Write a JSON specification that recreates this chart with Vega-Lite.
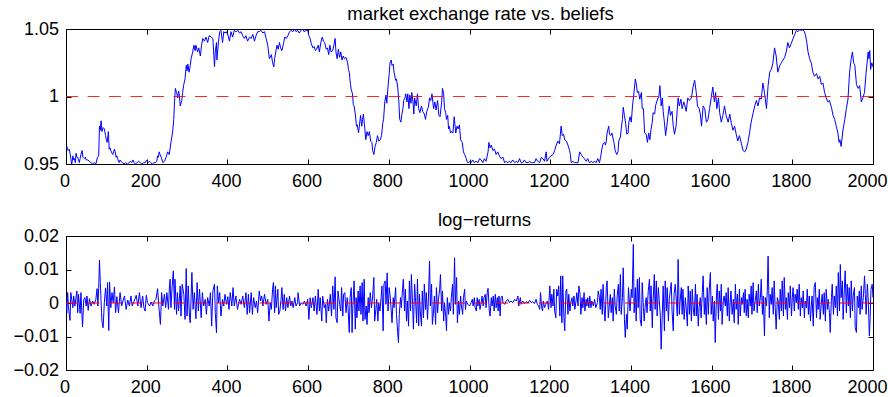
{
  "$schema": "https://vega.github.io/schema/vega-lite/v6.json",
  "background": "white",
  "padding": {"left": 12, "top": 4, "right": 0, "bottom": 0},
  "config": {
    "font": "Liberation Sans",
    "view": {"stroke": "black", "strokeWidth": 1},
    "axis": {
      "domain": false,
      "grid": false,
      "title": null,
      "tickColor": "black",
      "tickSize": -5,
      "tickWidth": 1,
      "labelFlush": false,
      "labelFont": "Liberation Sans",
      "labelFontSize": 18,
      "labelColor": "black"
    },
    "axisX": {"labelPadding": 13},
    "axisY": {"labelPadding": 12.5},
    "title": {
      "font": "Liberation Sans",
      "fontSize": 18.5,
      "fontWeight": "normal",
      "color": "black",
      "anchor": "middle",
      "frame": "group",
      "baseline": "alphabetic"
    }
  },
  "datasets": {
    "rate": [
      {"t":0,"r":0.962},{"t":2,"r":0.963},{"t":5,"r":0.960},{"t":8,"r":0.961},{"t":10,"r":0.958},{"t":12,"r":0.954},{"t":14,"r":0.950},{"t":15,"r":0.951},{"t":17,"r":0.956},{"t":19,"r":0.953},{"t":21,"r":0.954},{"t":23,"r":0.951},{"t":25,"r":0.958},{"t":27,"r":0.955},{"t":29,"r":0.955},{"t":31,"r":0.953},{"t":33,"r":0.951},{"t":35,"r":0.954},{"t":37,"r":0.957},{"t":40,"r":0.960},{"t":42,"r":0.955},{"t":45,"r":0.954},{"t":48,"r":0.955},{"t":50,"r":0.953},{"t":54,"r":0.953},{"t":58,"r":0.952},{"t":62,"r":0.951},{"t":66,"r":0.950},{"t":70,"r":0.951},{"t":74,"r":0.950},{"t":78,"r":0.955},{"t":81,"r":0.956},{"t":83,"r":0.978},{"t":85,"r":0.975},{"t":87,"r":0.982},{"t":89,"r":0.974},{"t":92,"r":0.977},{"t":95,"r":0.976},{"t":98,"r":0.971},{"t":100,"r":0.968},{"t":102,"r":0.966},{"t":104,"r":0.971},{"t":105,"r":0.974},{"t":107,"r":0.961},{"t":109,"r":0.962},{"t":111,"r":0.960},{"t":114,"r":0.958},{"t":116,"r":0.957},{"t":118,"r":0.959},{"t":120,"r":0.961},{"t":122,"r":0.959},{"t":124,"r":0.955},{"t":126,"r":0.956},{"t":128,"r":0.954},{"t":130,"r":0.952},{"t":132,"r":0.951},{"t":134,"r":0.953},{"t":136,"r":0.952},{"t":140,"r":0.951},{"t":144,"r":0.950},{"t":148,"r":0.951},{"t":152,"r":0.950},{"t":156,"r":0.951},{"t":160,"r":0.952},{"t":163,"r":0.951},{"t":166,"r":0.953},{"t":169,"r":0.951},{"t":172,"r":0.950},{"t":176,"r":0.951},{"t":180,"r":0.952},{"t":184,"r":0.951},{"t":188,"r":0.950},{"t":192,"r":0.951},{"t":196,"r":0.951},{"t":200,"r":0.953},{"t":203,"r":0.951},{"t":207,"r":0.952},{"t":210,"r":0.951},{"t":214,"r":0.950},{"t":218,"r":0.951},{"t":222,"r":0.951},{"t":225,"r":0.952},{"t":227,"r":0.956},{"t":229,"r":0.955},{"t":231,"r":0.959},{"t":233,"r":0.957},{"t":236,"r":0.955},{"t":240,"r":0.951},{"t":244,"r":0.952},{"t":248,"r":0.955},{"t":252,"r":0.959},{"t":256,"r":0.957},{"t":260,"r":0.966},{"t":264,"r":0.973},{"t":267,"r":0.983},{"t":269,"r":0.996},{"t":271,"r":1.006},{"t":274,"r":1.003},{"t":277,"r":0.999},{"t":279,"r":1.004},{"t":281,"r":1.001},{"t":283,"r":0.993},{"t":287,"r":0.997},{"t":289,"r":1.003},{"t":292,"r":1.009},{"t":295,"r":1.013},{"t":298,"r":1.023},{"t":300,"r":1.019},{"t":302,"r":1.024},{"t":305,"r":1.018},{"t":308,"r":1.023},{"t":310,"r":1.028},{"t":314,"r":1.033},{"t":317,"r":1.038},{"t":320,"r":1.034},{"t":322,"r":1.038},{"t":326,"r":1.033},{"t":329,"r":1.036},{"t":333,"r":1.030},{"t":336,"r":1.038},{"t":339,"r":1.043},{"t":343,"r":1.041},{"t":347,"r":1.044},{"t":351,"r":1.040},{"t":355,"r":1.045},{"t":360,"r":1.044},{"t":364,"r":1.043},{"t":368,"r":1.022},{"t":370,"r":1.033},{"t":373,"r":1.040},{"t":374,"r":1.027},{"t":378,"r":1.041},{"t":381,"r":1.048},{"t":384,"r":1.049},{"t":388,"r":1.040},{"t":391,"r":1.048},{"t":394,"r":1.047},{"t":397,"r":1.048},{"t":401,"r":1.046},{"t":405,"r":1.041},{"t":409,"r":1.048},{"t":413,"r":1.044},{"t":417,"r":1.049},{"t":421,"r":1.048},{"t":426,"r":1.049},{"t":430,"r":1.047},{"t":434,"r":1.048},{"t":438,"r":1.045},{"t":442,"r":1.043},{"t":446,"r":1.045},{"t":450,"r":1.041},{"t":455,"r":1.044},{"t":459,"r":1.043},{"t":463,"r":1.046},{"t":467,"r":1.041},{"t":471,"r":1.045},{"t":475,"r":1.048},{"t":479,"r":1.048},{"t":483,"r":1.049},{"t":488,"r":1.047},{"t":492,"r":1.048},{"t":496,"r":1.043},{"t":500,"r":1.038},{"t":504,"r":1.028},
      {"t":506,"r":1.029},{"t":509,"r":1.031},{"t":512,"r":1.025},{"t":515,"r":1.022},{"t":517,"r":1.028},{"t":521,"r":1.035},{"t":523,"r":1.038},{"t":526,"r":1.035},{"t":529,"r":1.040},{"t":532,"r":1.036},{"t":535,"r":1.034},{"t":539,"r":1.039},{"t":542,"r":1.044},{"t":546,"r":1.043},{"t":550,"r":1.045},{"t":554,"r":1.048},{"t":558,"r":1.049},{"t":562,"r":1.048},{"t":566,"r":1.050},{"t":570,"r":1.048},{"t":574,"r":1.049},{"t":578,"r":1.047},{"t":582,"r":1.049},{"t":586,"r":1.050},{"t":590,"r":1.048},{"t":595,"r":1.049},{"t":599,"r":1.049},{"t":602,"r":1.045},{"t":605,"r":1.043},{"t":608,"r":1.039},{"t":612,"r":1.036},{"t":615,"r":1.037},{"t":618,"r":1.034},{"t":621,"r":1.035},{"t":625,"r":1.038},{"t":628,"r":1.033},{"t":631,"r":1.039},{"t":635,"r":1.044},{"t":638,"r":1.041},{"t":641,"r":1.040},{"t":645,"r":1.035},{"t":648,"r":1.036},{"t":651,"r":1.031},{"t":654,"r":1.038},{"t":657,"r":1.033},{"t":661,"r":1.034},{"t":664,"r":1.038},{"t":667,"r":1.043},{"t":669,"r":1.033},{"t":672,"r":1.028},{"t":675,"r":1.035},{"t":678,"r":1.029},{"t":681,"r":1.033},{"t":684,"r":1.027},{"t":687,"r":1.030},{"t":690,"r":1.028},{"t":694,"r":1.029},{"t":698,"r":1.025},{"t":700,"r":1.020},{"t":702,"r":1.018},{"t":705,"r":1.009},{"t":707,"r":1.005},{"t":710,"r":1.002},{"t":712,"r":0.994},{"t":714,"r":0.993},{"t":717,"r":0.987},{"t":720,"r":0.978},{"t":722,"r":0.979},{"t":725,"r":0.973},{"t":727,"r":0.978},{"t":730,"r":0.986},{"t":733,"r":0.978},{"t":735,"r":0.983},{"t":737,"r":0.987},{"t":740,"r":0.978},{"t":743,"r":0.968},{"t":746,"r":0.974},{"t":749,"r":0.971},{"t":752,"r":0.974},{"t":755,"r":0.967},{"t":758,"r":0.966},{"t":760,"r":0.960},{"t":763,"r":0.957},{"t":766,"r":0.963},{"t":769,"r":0.966},{"t":772,"r":0.971},{"t":775,"r":0.967},{"t":779,"r":0.968},{"t":782,"r":0.971},{"t":785,"r":0.980},{"t":787,"r":0.983},{"t":790,"r":0.996},{"t":793,"r":1.001},{"t":795,"r":0.995},{"t":798,"r":1.007},{"t":801,"r":1.017},{"t":803,"r":1.025},{"t":806,"r":1.027},{"t":808,"r":1.023},{"t":811,"r":1.024},{"t":813,"r":1.018},{"t":817,"r":1.012},{"t":819,"r":1.013},{"t":822,"r":1.007},{"t":825,"r":0.996},{"t":827,"r":0.983},{"t":830,"r":0.981},{"t":832,"r":0.986},{"t":835,"r":0.991},{"t":837,"r":0.997},{"t":840,"r":0.999},{"t":842,"r":1.002},{"t":845,"r":0.996},{"t":847,"r":1.002},{"t":850,"r":0.991},{"t":852,"r":1.001},{"t":855,"r":0.995},{"t":857,"r":1.003},{"t":860,"r":0.996},{"t":862,"r":0.987},{"t":864,"r":0.999},{"t":868,"r":0.993},{"t":871,"r":1.002},{"t":874,"r":0.991},{"t":877,"r":0.988},{"t":881,"r":0.993},{"t":884,"r":0.989},{"t":888,"r":0.987},{"t":891,"r":0.983},{"t":894,"r":0.989},{"t":898,"r":0.992},{"t":901,"r":0.999},{"t":904,"r":0.997},{"t":907,"r":1.002},{"t":911,"r":0.991},{"t":914,"r":0.996},{"t":917,"r":0.990},{"t":921,"r":0.997},{"t":924,"r":0.986},{"t":927,"r":0.985},{"t":931,"r":0.996},{"t":933,"r":1.006},{"t":936,"r":1.002},{"t":938,"r":0.991},{"t":941,"r":0.988},{"t":943,"r":0.983},{"t":946,"r":0.986},{"t":948,"r":0.976},{"t":950,"r":0.978},{"t":953,"r":0.973},{"t":955,"r":0.974},{"t":959,"r":0.973},{"t":962,"r":0.985},{"t":966,"r":0.973},{"t":969,"r":0.978},{"t":972,"r":0.976},{"t":975,"r":0.979},{"t":978,"r":0.968},{"t":982,"r":0.966},{"t":985,"r":0.959},{"t":988,"r":0.957},{"t":992,"r":0.954},{"t":995,"r":0.951},{"t":998,"r":0.951},
      {"t":1001,"r":0.952},{"t":1004,"r":0.951},{"t":1008,"r":0.953},{"t":1012,"r":0.951},{"t":1016,"r":0.952},{"t":1021,"r":0.951},{"t":1025,"r":0.954},{"t":1029,"r":0.953},{"t":1033,"r":0.951},{"t":1037,"r":0.954},{"t":1041,"r":0.952},{"t":1046,"r":0.959},{"t":1048,"r":0.966},{"t":1051,"r":0.962},{"t":1054,"r":0.964},{"t":1058,"r":0.960},{"t":1062,"r":0.961},{"t":1066,"r":0.957},{"t":1070,"r":0.959},{"t":1074,"r":0.956},{"t":1078,"r":0.954},{"t":1083,"r":0.955},{"t":1087,"r":0.951},{"t":1091,"r":0.952},{"t":1095,"r":0.951},{"t":1099,"r":0.952},{"t":1103,"r":0.951},{"t":1107,"r":0.953},{"t":1112,"r":0.951},{"t":1116,"r":0.952},{"t":1120,"r":0.951},{"t":1124,"r":0.954},{"t":1128,"r":0.951},{"t":1132,"r":0.951},{"t":1136,"r":0.953},{"t":1140,"r":0.951},{"t":1145,"r":0.951},{"t":1149,"r":0.952},{"t":1153,"r":0.951},{"t":1157,"r":0.951},{"t":1161,"r":0.951},{"t":1165,"r":0.954},{"t":1169,"r":0.952},{"t":1174,"r":0.951},{"t":1178,"r":0.955},{"t":1182,"r":0.954},{"t":1186,"r":0.952},{"t":1190,"r":0.959},{"t":1192,"r":0.952},{"t":1198,"r":0.955},{"t":1202,"r":0.956},{"t":1207,"r":0.957},{"t":1211,"r":0.960},{"t":1215,"r":0.964},{"t":1219,"r":0.967},{"t":1223,"r":0.965},{"t":1227,"r":0.978},{"t":1230,"r":0.971},{"t":1233,"r":0.972},{"t":1236,"r":0.968},{"t":1240,"r":0.967},{"t":1244,"r":0.964},{"t":1248,"r":0.960},{"t":1250,"r":0.957},{"t":1252,"r":0.951},{"t":1256,"r":0.952},{"t":1260,"r":0.951},{"t":1264,"r":0.951},{"t":1269,"r":0.951},{"t":1273,"r":0.959},{"t":1277,"r":0.957},{"t":1281,"r":0.955},{"t":1285,"r":0.954},{"t":1289,"r":0.952},{"t":1293,"r":0.954},{"t":1297,"r":0.951},{"t":1302,"r":0.952},{"t":1306,"r":0.951},{"t":1310,"r":0.952},{"t":1314,"r":0.951},{"t":1318,"r":0.954},{"t":1322,"r":0.951},{"t":1325,"r":0.955},{"t":1328,"r":0.961},{"t":1331,"r":0.965},{"t":1335,"r":0.966},{"t":1337,"r":0.964},{"t":1339,"r":0.967},{"t":1341,"r":0.973},{"t":1345,"r":0.978},{"t":1347,"r":0.972},{"t":1350,"r":0.971},{"t":1353,"r":0.973},{"t":1355,"r":0.970},{"t":1358,"r":0.966},{"t":1361,"r":0.960},{"t":1365,"r":0.957},{"t":1368,"r":0.959},{"t":1370,"r":0.967},{"t":1374,"r":0.970},{"t":1376,"r":0.976},{"t":1379,"r":0.983},{"t":1381,"r":0.992},{"t":1384,"r":0.986},{"t":1387,"r":0.980},{"t":1390,"r":0.972},{"t":1393,"r":0.973},{"t":1395,"r":0.981},{"t":1398,"r":0.985},{"t":1401,"r":0.981},{"t":1404,"r":0.993},{"t":1408,"r":1.004},{"t":1411,"r":1.013},{"t":1413,"r":1.010},{"t":1416,"r":1.003},{"t":1419,"r":1.004},{"t":1422,"r":0.998},{"t":1426,"r":1.003},{"t":1428,"r":0.991},{"t":1431,"r":0.991},{"t":1434,"r":0.973},{"t":1438,"r":0.972},{"t":1441,"r":0.966},{"t":1444,"r":0.973},{"t":1447,"r":0.968},{"t":1450,"r":0.976},{"t":1453,"r":0.981},{"t":1455,"r":0.988},{"t":1459,"r":0.987},{"t":1461,"r":0.993},{"t":1464,"r":0.996},{"t":1467,"r":0.999},{"t":1469,"r":0.999},{"t":1472,"r":1.008},{"t":1475,"r":0.993},{"t":1478,"r":0.999},{"t":1480,"r":0.989},{"t":1483,"r":0.981},{"t":1486,"r":0.971},{"t":1489,"r":0.978},{"t":1492,"r":0.986},{"t":1495,"r":0.993},{"t":1498,"r":0.986},{"t":1502,"r":0.989},{"t":1505,"r":0.978},{"t":1508,"r":0.972},{"t":1512,"r":0.978},
      {"t":1517,"r":0.999},{"t":1520,"r":0.993},{"t":1524,"r":0.998},{"t":1527,"r":0.991},{"t":1531,"r":0.996},{"t":1534,"r":0.993},{"t":1537,"r":0.989},{"t":1541,"r":0.999},{"t":1545,"r":0.997},{"t":1550,"r":0.999},{"t":1554,"r":1.007},{"t":1558,"r":1.012},{"t":1562,"r":1.003},{"t":1565,"r":0.993},{"t":1569,"r":0.991},{"t":1572,"r":0.987},{"t":1575,"r":0.978},{"t":1579,"r":0.993},{"t":1583,"r":0.991},{"t":1587,"r":0.981},{"t":1591,"r":0.983},{"t":1595,"r":0.991},{"t":1599,"r":0.999},{"t":1603,"r":1.007},{"t":1607,"r":0.996},{"t":1610,"r":1.003},{"t":1613,"r":0.991},{"t":1617,"r":0.999},{"t":1620,"r":0.988},{"t":1624,"r":0.981},{"t":1628,"r":0.986},{"t":1632,"r":0.993},{"t":1636,"r":0.986},{"t":1641,"r":0.981},{"t":1645,"r":0.987},{"t":1649,"r":0.980},{"t":1653,"r":0.975},{"t":1657,"r":0.978},{"t":1661,"r":0.972},{"t":1665,"r":0.967},{"t":1669,"r":0.971},{"t":1674,"r":0.965},{"t":1678,"r":0.960},{"t":1682,"r":0.959},{"t":1686,"r":0.961},{"t":1690,"r":0.966},{"t":1694,"r":0.973},{"t":1698,"r":0.981},{"t":1703,"r":0.988},{"t":1707,"r":0.993},{"t":1711,"r":0.997},{"t":1715,"r":0.993},{"t":1719,"r":0.999},{"t":1723,"r":0.998},{"t":1727,"r":1.010},{"t":1731,"r":1.003},{"t":1736,"r":0.991},{"t":1740,"r":1.008},{"t":1744,"r":1.018},{"t":1748,"r":1.020},{"t":1752,"r":1.025},{"t":1756,"r":1.036},{"t":1760,"r":1.030},{"t":1764,"r":1.018},{"t":1769,"r":1.023},{"t":1773,"r":1.025},{"t":1777,"r":1.027},{"t":1781,"r":1.029},{"t":1785,"r":1.033},{"t":1789,"r":1.040},{"t":1793,"r":1.036},{"t":1797,"r":1.039},{"t":1802,"r":1.043},{"t":1806,"r":1.046},{"t":1810,"r":1.049},{"t":1814,"r":1.048},{"t":1818,"r":1.0495},{"t":1822,"r":1.049},{"t":1826,"r":1.0495},{"t":1830,"r":1.048},{"t":1833,"r":1.045},{"t":1836,"r":1.040},{"t":1839,"r":1.033},{"t":1843,"r":1.028},{"t":1847,"r":1.025},{"t":1851,"r":1.018},{"t":1855,"r":1.015},{"t":1860,"r":1.017},{"t":1864,"r":1.013},{"t":1868,"r":1.015},{"t":1872,"r":1.009},{"t":1876,"r":1.010},{"t":1880,"r":1.003},{"t":1884,"r":0.999},{"t":1888,"r":0.996},{"t":1892,"r":0.997},{"t":1897,"r":0.992},{"t":1901,"r":0.986},{"t":1905,"r":0.983},{"t":1909,"r":0.978},{"t":1913,"r":0.973},{"t":1916,"r":0.966},{"t":1918,"r":0.968},{"t":1921,"r":0.963},{"t":1926,"r":0.976},{"t":1930,"r":0.983},{"t":1934,"r":0.991},{"t":1938,"r":0.998},{"t":1942,"r":1.018},{"t":1946,"r":1.028},{"t":1949,"r":1.033},{"t":1952,"r":1.025},{"t":1955,"r":1.023},{"t":1959,"r":1.009},{"t":1963,"r":1.006},{"t":1967,"r":1.008},{"t":1971,"r":0.996},{"t":1975,"r":0.999},{"t":1979,"r":1.003},{"t":1983,"r":1.018},{"t":1988,"r":1.033},{"t":1990,"r":1.028},{"t":1992,"r":1.034},{"t":1994,"r":1.020},{"t":1997,"r":1.025},{"t":2000,"r":1.022}
    ],
    "ret": [
      {"t":0,"d":0.0010},{"t":2,"d":-0.0030},{"t":4,"d":0.0031},{"t":6,"d":-0.0010},{"t":8,"d":-0.0034},{"t":10,"d":-0.0052},{"t":12,"d":0.0031},{"t":17,"d":-0.0014},{"t":19,"d":0.0021},{"t":22,"d":-0.0009},{"t":27,"d":0.0036},{"t":29,"d":-0.0029},{"t":31,"d":0.0026},{"t":35,"d":-0.0031},{"t":37,"d":0.0031},{"t":41,"d":-0.0072},{"t":44,"d":0.0011},{"t":47,"d":0.0016},{"t":50,"d":-0.0009},{"t":52,"d":0.0021},{"t":55,"d":-0.0022},{"t":58,"d":0.0013},{"t":62,"d":-0.0009},{"t":66,"d":0.0006},{"t":70,"d":-0.0004},{"t":74,"d":0.0011},{"t":77,"d":0.0043},{"t":79,"d":-0.0009},{"t":81,"d":0.0044},{"t":83,"d":0.0128},{"t":85,"d":0.0061},{"t":88,"d":-0.0029},{"t":89,"d":-0.0054},{"t":92,"d":-0.0074},{"t":95,"d":0.0001},{"t":98,"d":0.0045},{"t":101,"d":-0.0009},{"t":103,"d":0.0061},{"t":106,"d":-0.0082},{"t":108,"d":0.0063},{"t":111,"d":-0.0014},{"t":114,"d":0.0031},{"t":117,"d":0.0001},{"t":120,"d":0.0048},{"t":123,"d":-0.0029},{"t":126,"d":0.0019},{"t":130,"d":-0.0029},{"t":134,"d":0.0031},{"t":138,"d":-0.0009},{"t":141,"d":0.0006},{"t":145,"d":0.0021},{"t":149,"d":-0.0019},{"t":153,"d":0.0009},{"t":157,"d":-0.0009},{"t":161,"d":0.0021},{"t":164,"d":-0.0009},{"t":169,"d":0.0006},{"t":174,"d":0.0023},{"t":178,"d":-0.0009},{"t":182,"d":0.0031},{"t":186,"d":-0.0014},{"t":190,"d":0.0021},{"t":193,"d":-0.0014},{"t":196,"d":-0.0024},{"t":199,"d":0.0023},{"t":202,"d":0.0001},{"t":207,"d":-0.0009},{"t":211,"d":0.0003},{"t":215,"d":-0.0009},{"t":219,"d":0.0006},{"t":223,"d":0.0011},{"t":227,"d":0.0043},{"t":230,"d":-0.0009},{"t":234,"d":-0.0064},{"t":237,"d":0.0031},{"t":240,"d":-0.0009},{"t":244,"d":0.0026},{"t":247,"d":-0.0014},{"t":250,"d":0.0031},{"t":254,"d":-0.0019},{"t":256,"d":0.0041},{"t":258,"d":0.0071},{"t":260,"d":-0.0014},{"t":264,"d":0.0066},{"t":266,"d":0.0096},{"t":269,"d":-0.0019},{"t":270,"d":0.0071},{"t":274,"d":-0.0034},{"t":276,"d":0.0031},{"t":279,"d":-0.0024},{"t":283,"d":0.0051},{"t":285,"d":-0.0039},{"t":288,"d":0.0056},{"t":292,"d":0.0026},{"t":295,"d":-0.0049},{"t":298,"d":0.0103},{"t":300,"d":-0.0039},{"t":303,"d":0.0051},{"t":306,"d":-0.0044},{"t":308,"d":-0.0059},{"t":312,"d":0.0091},{"t":315,"d":-0.0019},{"t":318,"d":0.0031},{"t":322,"d":-0.0047},{"t":325,"d":0.0061},{"t":328,"d":-0.0024},{"t":331,"d":0.0041},{"t":335,"d":-0.0044},{"t":338,"d":0.0031},{"t":341,"d":-0.0009},{"t":345,"d":0.0011},{"t":348,"d":-0.0034},{"t":351,"d":0.0016},{"t":355,"d":-0.0009},{"t":358,"d":0.0031},{"t":361,"d":-0.0069},{"t":364,"d":0.0036},{"t":368,"d":0.0056},{"t":370,"d":-0.0029},{"t":373,"d":-0.0089},{"t":375,"d":0.0051},{"t":378,"d":0.0001},{"t":381,"d":0.0031},{"t":384,"d":-0.0039},{"t":388,"d":0.0011},{"t":391,"d":-0.0009},{"t":394,"d":0.0026},{"t":398,"d":-0.0004},{"t":401,"d":0.0019},{"t":404,"d":-0.0019},{"t":407,"d":0.0031},{"t":411,"d":-0.0009},{"t":414,"d":0.0046},{"t":417,"d":-0.0009},{"t":421,"d":0.0021},{"t":425,"d":-0.0019},{"t":430,"d":0.0011},{"t":434,"d":-0.0004},{"t":438,"d":0.0021},{"t":442,"d":-0.0014},{"t":446,"d":0.0031},{"t":449,"d":-0.0034},{"t":452,"d":0.0026},{"t":455,"d":-0.0029},{"t":459,"d":0.0031},{"t":462,"d":-0.0034},{"t":465,"d":0.0016},{"t":469,"d":-0.0014},{"t":472,"d":0.0006},{"t":475,"d":-0.0029},{"t":479,"d":0.0036},{"t":482,"d":0.0006},{"t":485,"d":0.0021},{"t":488,"d":-0.0009},{"t":492,"d":0.0026},{"t":496,"d":-0.0004},{"t":500,"d":0.0011},{"t":503,"d":-0.0054},
      {"t":506,"d":0.0001},{"t":509,"d":-0.0019},{"t":512,"d":0.0041},{"t":514,"d":0.0061},{"t":517,"d":-0.0029},{"t":519,"d":0.0051},{"t":521,"d":-0.0014},{"t":525,"d":0.0041},{"t":527,"d":-0.0034},{"t":530,"d":-0.0024},{"t":533,"d":0.0011},{"t":535,"d":0.0046},{"t":538,"d":-0.0019},{"t":541,"d":0.0026},{"t":544,"d":-0.0024},{"t":547,"d":0.0016},{"t":550,"d":-0.0014},{"t":554,"d":0.0021},{"t":557,"d":-0.0009},{"t":560,"d":0.0006},{"t":563,"d":-0.0014},{"t":567,"d":0.0016},{"t":570,"d":-0.0009},{"t":574,"d":0.0001},{"t":575,"d":0.0031},{"t":579,"d":-0.0009},{"t":583,"d":0.0001},{"t":587,"d":-0.0004},{"t":591,"d":0.0006},{"t":595,"d":-0.0009},{"t":599,"d":0.0011},{"t":602,"d":-0.0049},{"t":605,"d":0.0016},{"t":608,"d":-0.0014},{"t":612,"d":0.0016},{"t":615,"d":-0.0024},{"t":618,"d":0.0021},{"t":622,"d":-0.0034},{"t":625,"d":0.0041},{"t":628,"d":-0.0024},{"t":630,"d":0.0016},{"t":634,"d":-0.0054},{"t":636,"d":0.0021},{"t":640,"d":-0.0014},{"t":643,"d":-0.0004},{"t":645,"d":-0.0059},{"t":648,"d":0.0011},{"t":651,"d":-0.0024},{"t":655,"d":0.0026},{"t":658,"d":-0.0039},{"t":661,"d":0.0051},{"t":664,"d":-0.0019},{"t":667,"d":0.0078},{"t":669,"d":-0.0044},{"t":672,"d":-0.0059},{"t":674,"d":0.0036},{"t":678,"d":-0.0004},{"t":681,"d":-0.0024},{"t":683,"d":0.0046},{"t":686,"d":-0.0039},{"t":688,"d":0.0026},{"t":691,"d":0.0031},{"t":694,"d":-0.0029},{"t":697,"d":0.0016},{"t":699,"d":-0.0014},{"t":702,"d":-0.0088},{"t":704,"d":0.0016},{"t":707,"d":0.0046},{"t":709,"d":-0.0088},{"t":711,"d":-0.0009},{"t":714,"d":0.0066},{"t":717,"d":-0.0078},{"t":719,"d":0.0016},{"t":721,"d":-0.0044},{"t":724,"d":0.0036},{"t":726,"d":-0.0024},{"t":729,"d":0.0051},{"t":731,"d":-0.0034},{"t":734,"d":0.0061},{"t":736,"d":-0.0054},{"t":739,"d":0.0071},{"t":741,"d":-0.0049},{"t":744,"d":-0.0009},{"t":746,"d":-0.0064},{"t":749,"d":0.0016},{"t":751,"d":-0.0029},{"t":754,"d":0.0031},{"t":757,"d":-0.0014},{"t":760,"d":0.0021},{"t":763,"d":0.0076},{"t":765,"d":-0.0054},{"t":768,"d":-0.0019},{"t":770,"d":0.0011},{"t":773,"d":-0.0054},{"t":775,"d":0.0001},{"t":778,"d":-0.0024},{"t":781,"d":0.0016},{"t":783,"d":0.0051},{"t":786,"d":-0.0083},{"t":788,"d":0.0056},{"t":791,"d":0.0066},{"t":793,"d":-0.0004},{"t":796,"d":0.0090},{"t":798,"d":-0.0024},{"t":801,"d":0.0046},{"t":803,"d":0.0026},{"t":806,"d":-0.0024},{"t":808,"d":-0.0059},{"t":811,"d":0.0016},{"t":813,"d":-0.0014},{"t":817,"d":0.0046},{"t":819,"d":-0.0034},{"t":822,"d":-0.0088},{"t":824,"d":-0.0118},{"t":826,"d":-0.0034},{"t":829,"d":0.0016},{"t":831,"d":-0.0014},{"t":834,"d":0.0041},{"t":836,"d":0.0071},{"t":839,"d":-0.0024},{"t":841,"d":0.0041},{"t":844,"d":-0.0054},{"t":846,"d":0.0006},{"t":849,"d":-0.0069},{"t":851,"d":0.0066},{"t":854,"d":-0.0024},{"t":856,"d":0.0085},{"t":859,"d":-0.0004},{"t":861,"d":-0.0078},{"t":864,"d":0.0056},{"t":866,"d":0.0016},{"t":869,"d":-0.0059},{"t":871,"d":0.0071},{"t":874,"d":-0.0069},{"t":876,"d":0.0026},{"t":878,"d":-0.0024},{"t":881,"d":-0.0069},{"t":883,"d":0.0036},{"t":886,"d":-0.0044},{"t":888,"d":0.0056},{"t":891,"d":-0.0019},{"t":893,"d":0.0031},{"t":896,"d":-0.0049},{"t":898,"d":0.0006},{"t":901,"d":0.0125},{"t":903,"d":-0.0009},{"t":906,"d":0.0056},{"t":908,"d":-0.0064},{"t":911,"d":-0.0024},{"t":913,"d":0.0021},{"t":916,"d":-0.0064},{"t":918,"d":0.0046},{"t":921,"d":-0.0029},{"t":923,"d":0.0011},{"t":926,"d":0.0041},{"t":928,"d":0.0085},{"t":931,"d":-0.0024},{"t":933,"d":0.0036},{"t":936,"d":-0.0054},{"t":938,"d":0.0001},{"t":941,"d":-0.0039},{"t":943,"d":-0.0083},{"t":945,"d":0.0016},{"t":948,"d":-0.0034},{"t":950,"d":0.0001},{"t":953,"d":-0.0024},{"t":955,"d":0.0016},{"t":958,"d":0.0056},{"t":960,"d":-0.0034},{"t":963,"d":0.0135},{"t":965,"d":-0.0004},{"t":968,"d":0.0076},{"t":970,"d":-0.0059},{"t":973,"d":0.0006},{"t":975,"d":-0.0034},{"t":978,"d":0.0021},{"t":980,"d":-0.0009},{"t":983,"d":-0.0034},{"t":985,"d":0.0016},{"t":988,"d":0.0041},{"t":990,"d":-0.0019},{"t":992,"d":0.0006},{"t":996,"d":-0.0004},{"t":1000,"d":-0.0009},
      {"t":1004,"d":0.0001},{"t":1007,"d":0.0011},{"t":1009,"d":-0.0009},{"t":1012,"d":0.0016},{"t":1014,"d":-0.0014},{"t":1017,"d":-0.0024},{"t":1019,"d":0.0016},{"t":1021,"d":-0.0009},{"t":1024,"d":0.0011},{"t":1026,"d":-0.0019},{"t":1029,"d":0.0001},{"t":1031,"d":0.0021},{"t":1034,"d":-0.0009},{"t":1036,"d":0.0016},{"t":1039,"d":0.0026},{"t":1041,"d":-0.0014},{"t":1044,"d":0.0031},{"t":1046,"d":0.0044},{"t":1049,"d":-0.0024},{"t":1051,"d":-0.0039},{"t":1054,"d":0.0016},{"t":1056,"d":-0.0009},{"t":1059,"d":0.0021},{"t":1061,"d":-0.0024},{"t":1064,"d":0.0026},{"t":1066,"d":-0.0014},{"t":1069,"d":0.0016},{"t":1071,"d":-0.0024},{"t":1073,"d":0.0021},{"t":1076,"d":-0.0039},{"t":1078,"d":0.0016},{"t":1081,"d":0.0021},{"t":1083,"d":0.0001},{"t":1087,"d":-0.0004},{"t":1091,"d":0.0006},{"t":1095,"d":0.0011},{"t":1099,"d":0.0001},{"t":1103,"d":0.0006},{"t":1107,"d":0.0001},{"t":1112,"d":0.0011},{"t":1116,"d":0.0006},{"t":1120,"d":0.0021},{"t":1122,"d":-0.0009},{"t":1126,"d":0.0016},{"t":1128,"d":-0.0004},{"t":1132,"d":0.0006},{"t":1136,"d":-0.0002},{"t":1140,"d":0.0004},{"t":1145,"d":0.0000},{"t":1149,"d":0.0008},{"t":1153,"d":0.0001},{"t":1157,"d":0.0004},{"t":1161,"d":-0.0002},{"t":1165,"d":0.0011},{"t":1168,"d":-0.0004},{"t":1171,"d":-0.0009},{"t":1174,"d":-0.0019},{"t":1176,"d":0.0031},{"t":1179,"d":-0.0014},{"t":1181,"d":-0.0024},{"t":1183,"d":0.0006},{"t":1186,"d":-0.0014},{"t":1189,"d":-0.0004},{"t":1193,"d":0.0006},{"t":1196,"d":-0.0019},{"t":1199,"d":0.0051},{"t":1202,"d":-0.0014},{"t":1204,"d":0.0026},{"t":1207,"d":-0.0009},{"t":1209,"d":0.0041},{"t":1211,"d":-0.0024},{"t":1214,"d":-0.0044},{"t":1216,"d":0.0041},{"t":1219,"d":0.0021},{"t":1221,"d":0.0051},{"t":1224,"d":-0.0039},{"t":1226,"d":0.0081},{"t":1229,"d":-0.0059},{"t":1231,"d":0.0081},{"t":1234,"d":-0.0044},{"t":1236,"d":-0.0083},{"t":1239,"d":0.0036},{"t":1241,"d":0.0041},{"t":1244,"d":-0.0034},{"t":1246,"d":0.0026},{"t":1249,"d":-0.0024},{"t":1251,"d":0.0001},{"t":1254,"d":0.0016},{"t":1256,"d":-0.0009},{"t":1259,"d":0.0021},{"t":1261,"d":-0.0019},{"t":1264,"d":0.0006},{"t":1266,"d":0.0031},{"t":1269,"d":-0.0009},{"t":1271,"d":0.0051},{"t":1274,"d":0.0026},{"t":1276,"d":-0.0034},{"t":1279,"d":0.0016},{"t":1281,"d":-0.0014},{"t":1284,"d":0.0031},{"t":1286,"d":-0.0024},{"t":1289,"d":0.0011},{"t":1291,"d":-0.0009},{"t":1293,"d":0.0016},{"t":1296,"d":-0.0014},{"t":1298,"d":0.0021},{"t":1301,"d":-0.0014},{"t":1303,"d":0.0006},{"t":1307,"d":-0.0009},{"t":1310,"d":0.0011},{"t":1313,"d":-0.0014},{"t":1317,"d":0.0001},{"t":1319,"d":0.0036},{"t":1322,"d":0.0016},{"t":1324,"d":-0.0019},{"t":1326,"d":0.0041},{"t":1329,"d":-0.0034},{"t":1331,"d":0.0056},{"t":1334,"d":-0.0024},{"t":1336,"d":-0.0054},{"t":1339,"d":0.0046},{"t":1341,"d":0.0066},{"t":1344,"d":-0.0044},{"t":1346,"d":-0.0014},{"t":1349,"d":0.0026},{"t":1351,"d":-0.0029},{"t":1354,"d":0.0016},{"t":1356,"d":-0.0054},{"t":1359,"d":0.0041},{"t":1361,"d":-0.0009},{"t":1364,"d":-0.0034},{"t":1366,"d":0.0021},{"t":1369,"d":0.0056},{"t":1371,"d":-0.0024},{"t":1374,"d":0.0085},{"t":1376,"d":-0.0034},{"t":1379,"d":0.0016},{"t":1381,"d":0.0105},{"t":1384,"d":-0.0049},{"t":1386,"d":-0.0103},{"t":1389,"d":-0.0034},{"t":1391,"d":-0.0078},{"t":1394,"d":0.0046},{"t":1396,"d":0.0006},{"t":1398,"d":-0.0024},{"t":1401,"d":0.0041},{"t":1403,"d":0.0016},{"t":1406,"d":0.0175},{"t":1408,"d":-0.0029},{"t":1411,"d":0.0046},{"t":1413,"d":-0.0054},{"t":1416,"d":0.0071},{"t":1418,"d":-0.0014},{"t":1421,"d":0.0076},{"t":1423,"d":-0.0049},{"t":1426,"d":-0.0069},{"t":1428,"d":0.0061},{"t":1431,"d":-0.0014},{"t":1433,"d":-0.0054},{"t":1436,"d":0.0001},{"t":1438,"d":0.0016},{"t":1440,"d":-0.0029},{"t":1443,"d":0.0036},{"t":1446,"d":0.0071},{"t":1448,"d":-0.0024},{"t":1450,"d":0.0051},{"t":1453,"d":-0.0074},{"t":1455,"d":0.0006},{"t":1458,"d":0.0085},{"t":1460,"d":-0.0019},{"t":1463,"d":0.0066},{"t":1465,"d":-0.0039},{"t":1468,"d":0.0046},{"t":1470,"d":0.0011},{"t":1473,"d":-0.0039},{"t":1475,"d":-0.0138},{"t":1478,"d":-0.0024},{"t":1480,"d":0.0051},{"t":1483,"d":-0.0083},{"t":1485,"d":0.0066},{"t":1488,"d":-0.0024},{"t":1490,"d":0.0046},{"t":1493,"d":-0.0054},{"t":1495,"d":0.0011},{"t":1498,"d":0.0041},{"t":1500,"d":0.0061},{"t":1502,"d":-0.0024},{"t":1505,"d":-0.0083},{"t":1507,"d":0.0026},{"t":1510,"d":0.0056},
      {"t":1515,"d":-0.0039},{"t":1517,"d":0.0130},{"t":1520,"d":-0.0034},{"t":1522,"d":0.0006},{"t":1525,"d":0.0046},{"t":1527,"d":-0.0034},{"t":1529,"d":0.0041},{"t":1532,"d":-0.0049},{"t":1535,"d":0.0016},{"t":1537,"d":-0.0014},{"t":1540,"d":-0.0069},{"t":1542,"d":0.0051},{"t":1545,"d":-0.0034},{"t":1547,"d":0.0036},{"t":1550,"d":-0.0054},{"t":1552,"d":0.0041},{"t":1555,"d":-0.0024},{"t":1557,"d":-0.0039},{"t":1560,"d":0.0056},{"t":1562,"d":-0.0039},{"t":1564,"d":0.0026},{"t":1567,"d":-0.0069},{"t":1569,"d":-0.0014},{"t":1572,"d":0.0016},{"t":1574,"d":-0.0044},{"t":1577,"d":0.0031},{"t":1579,"d":0.0081},{"t":1582,"d":-0.0034},{"t":1584,"d":0.0016},{"t":1587,"d":-0.0064},{"t":1589,"d":0.0046},{"t":1592,"d":-0.0034},{"t":1594,"d":0.0036},{"t":1597,"d":0.0091},{"t":1599,"d":-0.0034},{"t":1602,"d":0.0021},{"t":1604,"d":-0.0054},{"t":1607,"d":0.0006},{"t":1609,"d":-0.0118},{"t":1612,"d":0.0021},{"t":1614,"d":0.0056},{"t":1617,"d":-0.0049},{"t":1619,"d":0.0036},{"t":1622,"d":-0.0024},{"t":1624,"d":0.0056},{"t":1626,"d":-0.0064},{"t":1629,"d":0.0006},{"t":1631,"d":0.0021},{"t":1634,"d":-0.0009},{"t":1636,"d":0.0031},{"t":1639,"d":-0.0039},{"t":1641,"d":0.0046},{"t":1644,"d":-0.0054},{"t":1646,"d":0.0001},{"t":1648,"d":0.0036},{"t":1651,"d":-0.0034},{"t":1654,"d":0.0011},{"t":1656,"d":-0.0059},{"t":1659,"d":0.0056},{"t":1661,"d":-0.0019},{"t":1664,"d":0.0026},{"t":1666,"d":-0.0064},{"t":1669,"d":0.0041},{"t":1671,"d":-0.0039},{"t":1674,"d":0.0016},{"t":1676,"d":-0.0004},{"t":1679,"d":0.0031},{"t":1681,"d":-0.0029},{"t":1683,"d":0.0041},{"t":1686,"d":-0.0039},{"t":1688,"d":0.0011},{"t":1691,"d":-0.0044},{"t":1693,"d":0.0026},{"t":1696,"d":-0.0009},{"t":1698,"d":0.0051},{"t":1700,"d":-0.0034},{"t":1703,"d":0.0061},{"t":1705,"d":-0.0024},{"t":1708,"d":0.0006},{"t":1711,"d":0.0036},{"t":1713,"d":-0.0029},{"t":1716,"d":0.0056},{"t":1718,"d":-0.0009},{"t":1721,"d":0.0016},{"t":1723,"d":0.0071},{"t":1726,"d":-0.0034},{"t":1728,"d":0.0021},{"t":1731,"d":-0.0098},{"t":1733,"d":0.0016},{"t":1736,"d":-0.0009},{"t":1738,"d":0.0036},{"t":1740,"d":0.0140},{"t":1743,"d":-0.0044},{"t":1745,"d":0.0026},{"t":1748,"d":-0.0004},{"t":1750,"d":0.0046},{"t":1753,"d":-0.0034},{"t":1755,"d":0.0066},{"t":1758,"d":-0.0024},{"t":1760,"d":-0.0078},{"t":1763,"d":0.0016},{"t":1765,"d":0.0006},{"t":1768,"d":-0.0049},{"t":1770,"d":0.0041},{"t":1773,"d":-0.0024},{"t":1775,"d":0.0066},{"t":1778,"d":-0.0039},{"t":1780,"d":0.0076},{"t":1783,"d":-0.0019},{"t":1785,"d":0.0016},{"t":1788,"d":-0.0049},{"t":1790,"d":0.0031},{"t":1793,"d":-0.0014},{"t":1795,"d":0.0051},{"t":1798,"d":-0.0039},{"t":1800,"d":0.0016},{"t":1802,"d":0.0046},{"t":1805,"d":-0.0024},{"t":1807,"d":0.0026},{"t":1810,"d":0.0001},{"t":1812,"d":0.0041},{"t":1815,"d":-0.0019},{"t":1817,"d":0.0056},{"t":1820,"d":-0.0039},{"t":1822,"d":0.0016},{"t":1825,"d":-0.0014},{"t":1827,"d":0.0036},{"t":1830,"d":-0.0044},{"t":1832,"d":0.0006},{"t":1835,"d":-0.0014},{"t":1837,"d":0.0041},{"t":1840,"d":-0.0034},{"t":1842,"d":0.0021},{"t":1845,"d":-0.0054},{"t":1847,"d":-0.0009},{"t":1849,"d":0.0021},{"t":1852,"d":-0.0069},{"t":1854,"d":0.0046},{"t":1857,"d":0.0061},{"t":1860,"d":-0.0044},{"t":1862,"d":0.0016},{"t":1864,"d":-0.0019},{"t":1867,"d":0.0041},{"t":1869,"d":-0.0049},{"t":1872,"d":0.0001},{"t":1874,"d":0.0026},{"t":1877,"d":-0.0034},{"t":1879,"d":0.0031},{"t":1882,"d":-0.0054},{"t":1884,"d":0.0041},{"t":1887,"d":-0.0019},{"t":1889,"d":0.0011},{"t":1892,"d":-0.0029},{"t":1894,"d":-0.0088},{"t":1897,"d":0.0016},{"t":1899,"d":0.0056},{"t":1902,"d":-0.0034},{"t":1904,"d":0.0021},{"t":1907,"d":-0.0014},{"t":1909,"d":0.0051},{"t":1912,"d":-0.0039},{"t":1914,"d":0.0091},{"t":1917,"d":-0.0024},{"t":1919,"d":0.0115},{"t":1921,"d":0.0016},{"t":1924,"d":0.0066},{"t":1926,"d":-0.0049},{"t":1929,"d":0.0041},{"t":1931,"d":0.0096},{"t":1934,"d":-0.0029},{"t":1936,"d":0.0056},{"t":1939,"d":-0.0009},{"t":1941,"d":0.0046},{"t":1944,"d":-0.0044},{"t":1946,"d":0.0066},{"t":1949,"d":-0.0024},{"t":1951,"d":0.0021},{"t":1954,"d":0.0046},{"t":1956,"d":-0.0074},{"t":1959,"d":-0.0088},{"t":1961,"d":0.0021},{"t":1964,"d":-0.0014},{"t":1966,"d":0.0036},{"t":1968,"d":-0.0034},{"t":1971,"d":0.0051},{"t":1973,"d":-0.0019},{"t":1976,"d":0.0016},{"t":1979,"d":0.0081},{"t":1981,"d":0.0026},{"t":1983,"d":-0.0034},{"t":1986,"d":0.0056},{"t":1988,"d":0.0016},{"t":1991,"d":-0.0098},{"t":1993,"d":-0.0044},{"t":1995,"d":0.0041},{"t":1998,"d":0.0056},{"t":2000,"d":0.0016}
    ],
    "rateLevel": [{"level": 1}],
    "retLevel": [{"level": 0}]
  },
  "bounds": "flush",
  "spacing": 72,
  "vconcat": [
    {
      "width": 807,
      "height": 135,
      "title": {"text": "market exchange rate vs. beliefs", "offset": -3.2, "dx": 11},
      "resolve": {"axis": {"x": "independent", "y": "independent"}},
      "layer": [
        {
          "data": {"name": "rate"},
          "mark": {"type": "line", "color": "#0000ff", "strokeWidth": 1, "clip": true},
          "encoding": {
            "x": {"field": "t", "type": "quantitative",
                  "scale": {"domain": [0, 2000], "nice": false, "zero": false},
                  "axis": {"orient": "bottom", "values": [0,200,400,600,800,1000,1200,1400,1600,1800,2000], "format": "d",
                           "labelOffset": {"condition": {"test": "datum.value == 2000", "value": -6}, "value": -1.5}}},
            "y": {"field": "r", "type": "quantitative",
                  "scale": {"domain": [0.95, 1.05], "nice": false, "zero": false},
                  "axis": {"orient": "left", "values": [0.95, 1, 1.05], "format": "~g"}}
          }
        },
        {
          "data": {"name": "rateLevel"},
          "mark": {"type": "rule", "color": "#ff0000", "strokeWidth": 1, "strokeDash": [12, 9.5], "opacity": 0.85},
          "encoding": {
            "x": {"datum": 0, "type": "quantitative",
                  "axis": {"orient": "top", "labels": false, "values": [0,200,400,600,800,1000,1200,1400,1600,1800,2000]}},
            "x2": {"datum": 2000},
            "y": {"field": "level", "type": "quantitative",
                  "axis": {"orient": "right", "labels": false, "values": [0.95, 1, 1.05]}}
          }
        }
      ]
    },
    {
      "width": 807,
      "height": 134,
      "title": {"text": "log−returns", "offset": -2.8, "dx": 15},
      "resolve": {"axis": {"x": "independent", "y": "independent"}},
      "layer": [
        {
          "data": {"name": "ret"},
          "mark": {"type": "line", "color": "#0000ff", "strokeWidth": 1, "clip": true},
          "encoding": {
            "x": {"field": "t", "type": "quantitative",
                  "scale": {"domain": [0, 2000], "nice": false, "zero": false},
                  "axis": {"orient": "bottom", "values": [0,200,400,600,800,1000,1200,1400,1600,1800,2000], "format": "d",
                           "labelOffset": {"condition": {"test": "datum.value == 2000", "value": -6}, "value": -1.5}}},
            "y": {"field": "d", "type": "quantitative",
                  "scale": {"domain": [-0.02, 0.02], "nice": false},
                  "axis": {"orient": "left", "values": [-0.02, -0.01, 0, 0.01, 0.02], "format": "~g"}}
          }
        },
        {
          "data": {"name": "retLevel"},
          "mark": {"type": "rule", "color": "#ff0000", "strokeWidth": 1, "strokeDash": [12, 9.5]},
          "encoding": {
            "x": {"datum": 0, "type": "quantitative",
                  "axis": {"orient": "top", "labels": false, "values": [0,200,400,600,800,1000,1200,1400,1600,1800,2000]}},
            "x2": {"datum": 2000},
            "y": {"field": "level", "type": "quantitative",
                  "axis": {"orient": "right", "labels": false, "values": [-0.02, -0.01, 0, 0.01, 0.02]}}
          }
        }
      ]
    }
  ]
}
